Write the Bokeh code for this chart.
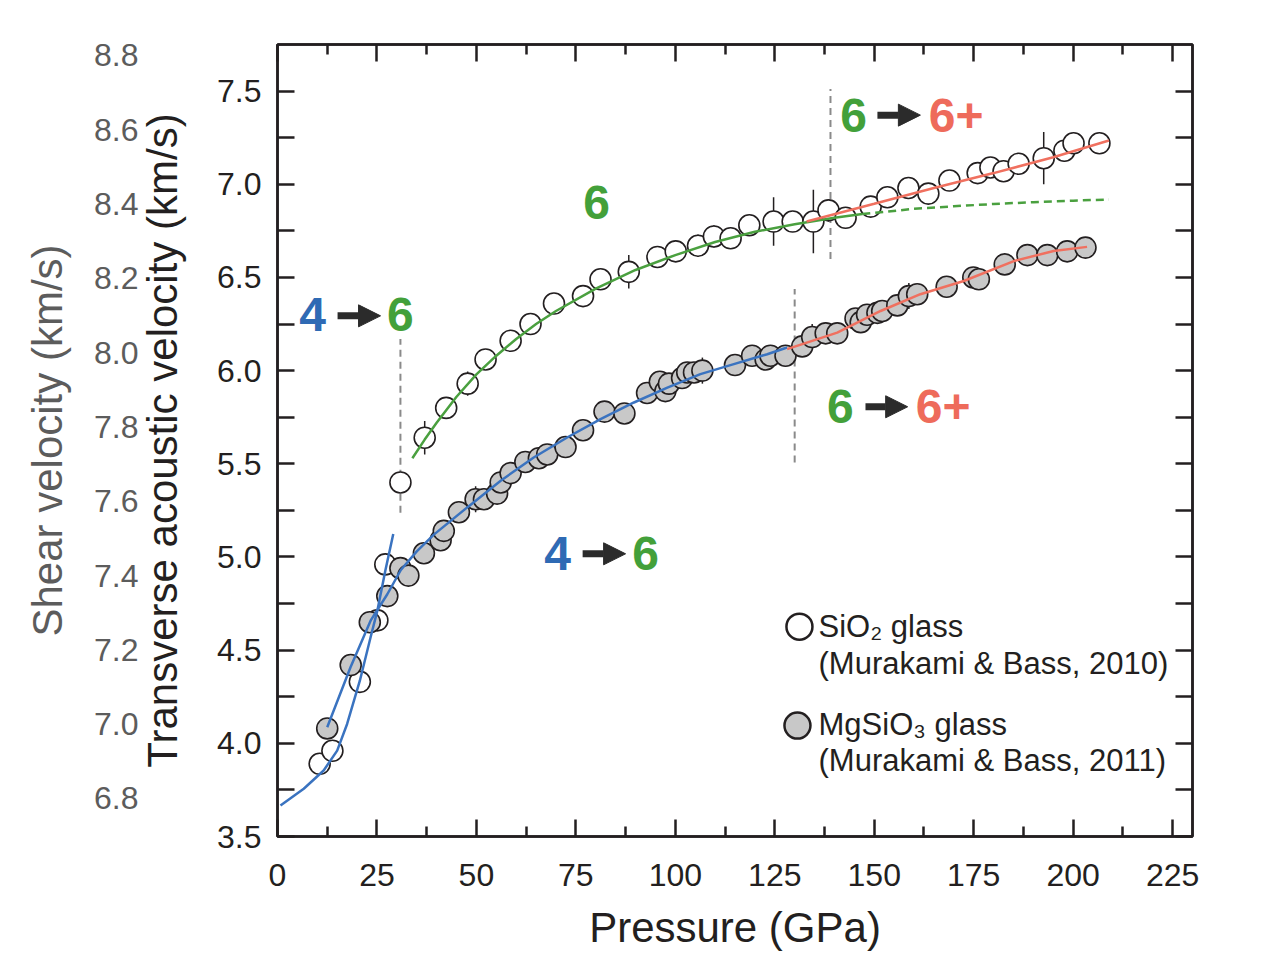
from bokeh.plotting import figure
from bokeh.models import (Range1d, LinearAxis, FixedTicker, PrintfTickFormatter,
                          ColumnDataSource, Arrow, NormalHead)
from bokeh.core.properties import value
from bokeh.embed import file_html
from bokeh.resources import INLINE

# ---------------- data ----------------
# SiO2 glass (open circles): pressure (GPa), velocity (km/s), error bar half-length
sio2_p = [10.6, 13.8, 20.7, 25.1, 27.1, 30.9, 37.0, 42.4, 47.8, 52.3,
          58.6, 63.6, 69.5, 76.8, 81.2, 88.3, 95.5, 100.1, 105.7, 109.7,
          113.9, 118.6, 124.7, 129.5, 134.7, 138.5, 142.8, 149.1, 153.3, 158.6,
          163.6, 168.9, 176.0, 179.2, 182.5, 186.3, 192.6, 197.8, 200.1, 206.6]
sio2_v = [3.89, 3.96, 4.33, 4.66, 4.96, 5.40, 5.64, 5.80, 5.93, 6.06,
          6.16, 6.25, 6.36, 6.40, 6.49, 6.53, 6.61, 6.64, 6.67, 6.72,
          6.71, 6.78, 6.80, 6.80, 6.80, 6.86, 6.82, 6.88, 6.93, 6.98,
          6.95, 7.02, 7.06, 7.09, 7.07, 7.11, 7.14, 7.18, 7.22, 7.22]
sio2_err = [0.02, 0.02, 0.02, 0.02, 0.02, 0.0, 0.09, 0.03, 0.065, 0.03,
            0.03, 0.03, 0.03, 0.03, 0.03, 0.09, 0.04, 0.05, 0.06, 0.06,
            0.03, 0.04, 0.13, 0.03, 0.17, 0.06, 0.03, 0.03, 0.03, 0.03,
            0.03, 0.03, 0.03, 0.03, 0.03, 0.03, 0.14, 0.06, 0.03, 0.03]

# MgSiO3 glass (grey circles)
mg_p = [12.5, 18.4, 23.2, 27.6, 30.9, 32.9, 36.8, 41.0, 41.8, 45.6,
        49.8, 51.9, 55.2, 56.1, 58.6, 62.3, 65.7, 67.8, 72.4, 76.8,
        82.2, 87.2, 92.9, 96.1, 97.5, 98.4, 101.7, 103.0, 104.7, 106.8,
        115.0, 119.3, 122.7, 123.9, 127.7, 131.9, 134.4, 137.8, 140.7, 145.3,
        146.6, 148.2, 150.8, 152.0, 155.8, 158.7, 160.8, 168.2, 174.9, 176.3,
        182.8, 188.5, 193.5, 198.5, 203.1]
mg_v = [4.08, 4.42, 4.65, 4.79, 4.94, 4.90, 5.02, 5.09, 5.14, 5.24,
        5.31, 5.31, 5.34, 5.40, 5.45, 5.51, 5.53, 5.55, 5.59, 5.68,
        5.78, 5.77, 5.88, 5.94, 5.89, 5.93, 5.96, 5.99, 5.99, 6.00,
        6.03, 6.08, 6.06, 6.08, 6.08, 6.13, 6.18, 6.20, 6.20, 6.28,
        6.26, 6.30, 6.31, 6.32, 6.35, 6.40, 6.41, 6.45, 6.50, 6.49,
        6.57, 6.62, 6.62, 6.64, 6.66]
mg_err = [0.03, 0.03, 0.03, 0.03, 0.03, 0.03, 0.03, 0.03, 0.03, 0.03,
          0.07, 0.03, 0.03, 0.03, 0.03, 0.03, 0.03, 0.03, 0.03, 0.03,
          0.03, 0.03, 0.03, 0.03, 0.03, 0.03, 0.03, 0.03, 0.03, 0.07,
          0.03, 0.03, 0.03, 0.03, 0.03, 0.03, 0.07, 0.03, 0.03, 0.03,
          0.03, 0.03, 0.03, 0.03, 0.03, 0.07, 0.03, 0.03, 0.03, 0.03,
          0.03, 0.03, 0.03, 0.03, 0.03]

# fitted curves (sampled along the drawn lines)
fit_sio2_4_p = [0.75, 6.6, 11.6, 15.0, 17.5, 20.7, 23.4, 25.1, 27.1, 29.1]
fit_sio2_4_v = [3.666, 3.756, 3.854, 3.961, 4.104, 4.336, 4.569, 4.712, 4.926, 5.123]
fit_sio2_6_p = [33.9, 37, 40, 45, 50, 55, 60, 65, 70, 80, 90, 100, 110, 120, 130, 140, 147]
fit_sio2_6_v = [5.53, 5.63, 5.72, 5.86, 5.98, 6.08, 6.17, 6.25, 6.32, 6.44, 6.54,
                6.62, 6.69, 6.745, 6.785, 6.82, 6.84]
ext_sio2_6_p = [147, 160, 170, 180, 190, 200, 209]
ext_sio2_6_v = [6.84, 6.868, 6.882, 6.894, 6.904, 6.912, 6.918]
fit_sio2_6p_p = [133, 150, 165, 180, 195, 209]
fit_sio2_6p_v = [6.80, 6.895, 6.98, 7.06, 7.145, 7.235]
fit_mg_p = [12.5, 18.35, 23.4, 27.6, 31.0, 35.0, 39.3, 47.7, 56.1, 64.4, 72.8,
            81.2, 89.6, 98.0, 106.3, 114.7, 123.1, 128.1]
fit_mg_v = [4.086, 4.408, 4.658, 4.80, 4.93, 5.03, 5.12, 5.266, 5.409, 5.534, 5.641,
            5.740, 5.829, 5.909, 5.981, 6.035, 6.088, 6.124]
fit_mg_6p_p = [128.1, 140.7, 151.6, 161.6, 172.5, 185.1, 195.1, 203.5]
fit_mg_6p_v = [6.115, 6.204, 6.320, 6.410, 6.481, 6.588, 6.642, 6.664]

# vertical dashed transition markers
vline_p = [30.9, 139.0, 130.0]
vline_lo = [5.237, 6.599, 5.507]
vline_hi = [6.170, 7.511, 6.438]

# coordination-number labels
lab_text = ["4", "6", "6", "6", "6+", "6", "6+", "4", "6"]
lab_p = [8.8, 30.9, 80.2, 144.8, 170.6, 141.5, 167.3, 70.4, 92.5]
lab_v = [6.299, 6.299, 6.900, 7.371, 7.371, 5.806, 5.806, 5.017, 5.017]
lab_col = ["#2f6ab4", "#43a03a", "#43a03a", "#43a03a", "#ee6b5b",
           "#43a03a", "#ee6b5b", "#2f6ab4", "#43a03a"]
arrow_p0 = [15.1, 150.8, 147.8, 76.7]
arrow_p1 = [25.9, 161.6, 158.4, 87.5]
arrow_v = [6.294, 7.371, 5.806, 5.017]

# axes
x_ticks = [0, 25, 50, 75, 100, 125, 150, 175, 200, 225]
x_minor = [12.5, 37.5, 62.5, 87.5, 112.5, 137.5, 162.5, 187.5, 212.5]
y_ticks = [3.5, 4.0, 4.5, 5.0, 5.5, 6.0, 6.5, 7.0, 7.5]
y_minor = [3.75, 4.25, 4.75, 5.25, 5.75, 6.25, 6.75, 7.25]
shear_ticks = [6.8, 7.0, 7.2, 7.4, 7.6, 7.8, 8.0, 8.2, 8.4, 8.6, 8.8]

# legend
leg_marker_p = [131.2, 130.7]
leg_marker_v = [4.626, 4.095]
leg_text = ["SiO\u2082 glass", "(Murakami & Bass, 2010)",
            "MgSiO\u2083 glass", "(Murakami & Bass, 2011)"]
leg_text_p = [136.0, 136.0, 136.0, 136.0]
leg_text_v = [4.626, 4.428, 4.100, 3.908]

# ---------------- styling ----------------
FONT = "Liberation Sans"
INK = "#231f20"
BLUE = "#3a73c0"
GREEN = "#4aa03f"
RED = "#f0705f"
GHOST = "#5c5c5c"

p = figure(width=1285, height=953, x_range=Range1d(0, 230), y_range=Range1d(3.5, 7.75),
           output_backend="svg", toolbar_location=None,
           min_border_left=277, min_border_right=93, min_border_top=44, min_border_bottom=117,
           x_axis_label="Pressure (GPa)", y_axis_label="Transverse acoustic velocity (km/s)")
p.grid.visible = False
p.outline_line_color = INK
p.outline_line_width = 2.5
p.border_fill_color = "white"
p.background_fill_color = "white"
p.extra_y_ranges = {"shear": Range1d(6.6977, 8.8296)}


def style_axis(ax, minor_in):
    ax.axis_line_color = INK
    ax.axis_line_width = 2.5
    ax.major_tick_line_color = INK
    ax.major_tick_line_width = 2.5
    ax.major_tick_in = 17
    ax.major_tick_out = 0
    ax.minor_tick_line_color = INK
    ax.minor_tick_line_width = 2.5
    ax.minor_tick_in = minor_in
    ax.minor_tick_out = 0
    ax.major_label_text_font = FONT
    ax.major_label_text_font_size = "32px"
    ax.major_label_text_color = INK
    ax.axis_label_text_font = FONT
    ax.axis_label_text_font_size = "42px"
    ax.axis_label_text_font_style = "normal"
    ax.axis_label_text_color = INK


xax = p.xaxis[0]
xax.ticker = FixedTicker(ticks=x_ticks, minor_ticks=x_minor)
style_axis(xax, 10)
xax.major_label_standoff = 27
xax.axis_label_standoff = 15

yax = p.yaxis[0]
yax.ticker = FixedTicker(ticks=y_ticks, minor_ticks=y_minor)
yax.formatter = PrintfTickFormatter(format="%.1f")
style_axis(yax, 17)
yax.major_label_standoff = 16
yax.axis_label_standoff = 28

top = LinearAxis(ticker=FixedTicker(ticks=x_ticks, minor_ticks=x_minor))
style_axis(top, 10)
top.major_label_overrides = {t: "" for t in x_ticks}
top.major_label_standoff = 0
p.add_layout(top, "above")

right = LinearAxis(ticker=FixedTicker(ticks=y_ticks, minor_ticks=y_minor))
style_axis(right, 17)
right.major_label_overrides = {t: "" for t in y_ticks}
right.major_label_standoff = 0
p.add_layout(right, "right")

ghost = LinearAxis(y_range_name="shear", ticker=FixedTicker(ticks=shear_ticks),
                   formatter=PrintfTickFormatter(format="%.1f"),
                   axis_label="Shear velocity (km/s)")
ghost.axis_line_color = None
ghost.major_tick_line_color = None
ghost.minor_tick_line_color = None
ghost.major_tick_in = 0
ghost.major_tick_out = 0
ghost.major_label_standoff = -2
ghost.major_label_text_font = FONT
ghost.major_label_text_font_size = "32px"
ghost.major_label_text_color = GHOST
ghost.axis_label_text_font = FONT
ghost.axis_label_text_font_size = "42px"
ghost.axis_label_text_font_style = "normal"
ghost.axis_label_text_color = GHOST
ghost.axis_label_standoff = 20
p.add_layout(ghost, "left")

# error bars
p.segment(x0=sio2_p, y0=[v - e for v, e in zip(sio2_v, sio2_err)],
          x1=sio2_p, y1=[v + e for v, e in zip(sio2_v, sio2_err)],
          line_color=INK, line_width=1.5)
p.segment(x0=mg_p, y0=[v - e for v, e in zip(mg_v, mg_err)],
          x1=mg_p, y1=[v + e for v, e in zip(mg_v, mg_err)],
          line_color=INK, line_width=1.5)

# dashed transition lines
p.segment(x0=vline_p, y0=vline_lo, x1=vline_p, y1=vline_hi,
          line_color="#8a8a8a", line_width=2, line_dash="7 5")

# markers
p.scatter(sio2_p, sio2_v, size=21, marker="circle", fill_color="white",
          line_color=INK, line_width=1.6)
p.scatter(mg_p, mg_v, size=21, marker="circle", fill_color="#c8c8c8",
          line_color=INK, line_width=1.6)

# fitted curves
p.line(fit_sio2_4_p, fit_sio2_4_v, line_color=BLUE, line_width=2.5)
p.line(fit_mg_p, fit_mg_v, line_color=BLUE, line_width=2.5)
p.line(fit_sio2_6_p, fit_sio2_6_v, line_color=GREEN, line_width=2.5)
p.line(ext_sio2_6_p, ext_sio2_6_v, line_color=GREEN, line_width=2.5, line_dash="8 5")
p.line(fit_sio2_6p_p, fit_sio2_6p_v, line_color=RED, line_width=2.5)
p.line(fit_mg_6p_p, fit_mg_6p_v, line_color=RED, line_width=2.5)

# coordination labels
lab_src = ColumnDataSource(dict(x=lab_p, y=lab_v, text=lab_text, color=lab_col))
p.text(x="x", y="y", text="text", text_color="color", source=lab_src,
       text_font=value(FONT), text_font_style="bold", text_font_size="48px",
       text_align="center", text_baseline="middle")

arr_src = ColumnDataSource(dict(x0=arrow_p0, x1=arrow_p1, y=arrow_v))
p.add_layout(Arrow(x_start="x0", y_start="y", x_end="x1", y_end="y", source=arr_src,
                   line_color="#2b2b2b", line_width=7,
                   end=NormalHead(size=22, fill_color="#2b2b2b", line_color="#2b2b2b",
                                  line_width=1)))

# legend (drawn manually to match the original)
p.scatter(leg_marker_p[:1], leg_marker_v[:1], size=26, marker="circle",
          fill_color="white", line_color=INK, line_width=2.5)
p.scatter(leg_marker_p[1:], leg_marker_v[1:], size=26, marker="circle",
          fill_color="#c8c8c8", line_color=INK, line_width=2.5)
p.text(x=leg_text_p, y=leg_text_v, text=leg_text, text_font=value(FONT),
       text_font_size="31px", text_color=INK, text_align="left", text_baseline="middle")

open("out.html", "w").write(file_html(p, INLINE))
